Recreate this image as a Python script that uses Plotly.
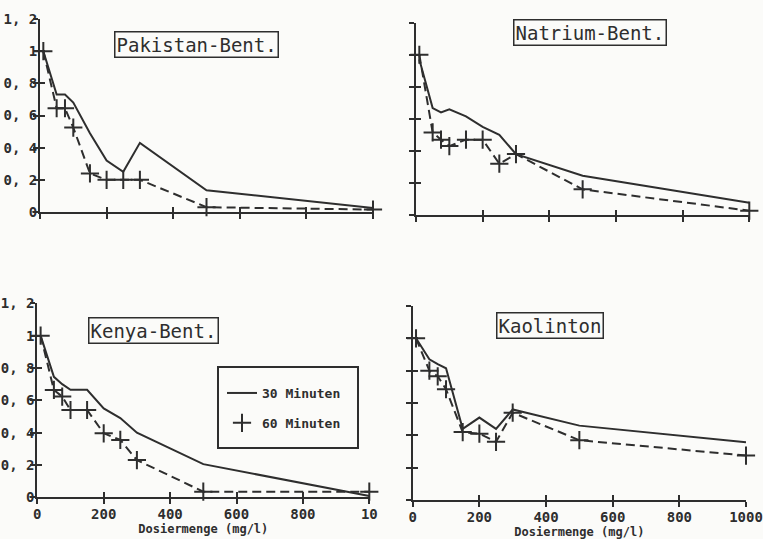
import plotly.graph_objects as go

# ---------------- data ----------------
dose = [10, 50, 75, 100, 150, 200, 250, 300, 500, 1000]

panels = ["Pakistan-Bent.", "Natrium-Bent.", "Kenya-Bent.", "Kaolinton"]

pak_30 = [1.0, 0.73, 0.73, 0.68, 0.49, 0.32, 0.25, 0.43, 0.135, 0.025]
pak_60 = [1.0, 0.645, 0.645, 0.525, 0.24, 0.2, 0.2, 0.2, 0.03, 0.015]

nat_30 = [0.97, 0.667, 0.64, 0.66, 0.615, 0.55, 0.50, 0.38, 0.245, 0.077]
nat_60 = [1.0, 0.515, 0.47, 0.43, 0.47, 0.47, 0.32, 0.38, 0.16, 0.027]

ken_30 = [1.0, 0.745, 0.70, 0.665, 0.665, 0.55, 0.49, 0.40, 0.205, 0.008]
ken_60 = [1.0, 0.664, 0.623, 0.54, 0.54, 0.396, 0.355, 0.23, 0.035, 0.035]

kao_30 = [1.0, 0.87, 0.84, 0.815, 0.44, 0.51, 0.44, 0.56, 0.46, 0.357]
kao_60 = [1.0, 0.80, 0.765, 0.685, 0.42, 0.41, 0.36, 0.54, 0.37, 0.275]

series_30 = [pak_30, nat_30, ken_30, kao_30]
series_60 = [pak_60, nat_60, ken_60, kao_60]

y_tickvals = [0, 0.2, 0.4, 0.6, 0.8, 1.0, 1.2]
y_ticktext = ["0", "0, 2", "0, 4", "0, 6", "0, 8", "1", "1, 2"]
x_tickvals = [0, 200, 400, 600, 800, 1000]
x_ticktext = ["0", "200", "400", "600", "800", "1000"]
x_ticktext_kenya = ["0", "200", "400", "600", "800", "10"]
legend_names = ["30 Minuten", "60 Minuten"]
x_title = "Dosiermenge (mg/l)"

# ---------------- layout helpers ----------------
W, H = 763, 539
INK = "#2e2e2e"
MONO = "DejaVu Sans Mono"


def fx(px):
    return px / W


def fy(py):
    return 1 - py / H


# pixel boxes of each plotting area: (x0, x1, y_bottom, y_top)
boxes = [
    (40, 373, 212, 19),
    (416, 749.3, 215, 22.7),
    (37.3, 369.3, 497.3, 303.3),
    (412.7, 746, 500, 306),
]
title_pos = [(196.5, 44.5), (589.5, 33), (153.5, 330), (550, 325.5)]

fig = go.Figure()
layout = {}

for i in range(4):
    n = i + 1
    xa = "x" if n == 1 else f"x{n}"
    ya = "y" if n == 1 else f"y{n}"
    x0, x1, yb, yt = boxes[i]
    xdom = [fx(x0), fx(x1)]
    ydom = [fy(yb), fy(yt)]

    show_y = i in (0, 2)
    show_x = i in (2, 3)
    xtext = x_ticktext_kenya if i == 2 else x_ticktext

    layout[f"xaxis{'' if n == 1 else n}"] = dict(
        domain=xdom, range=[0, 1000], anchor=ya, automargin=False,
        showline=True, linecolor=INK, linewidth=2,
        ticks="outside", ticklen=5, tickwidth=2, tickcolor=INK,
        tickvals=x_tickvals, ticktext=xtext, showticklabels=show_x,
        ticklabelstandoff=-2,
        showgrid=False, zeroline=False,
        tickfont=dict(family=MONO, size=14, color=INK, weight="bold"),
        title=dict(text=x_title if show_x else "", standoff=0,
                   font=dict(family=MONO, size=12, color=INK, weight="bold")),
        fixedrange=True,
    )
    layout[f"yaxis{'' if n == 1 else n}"] = dict(
        domain=ydom, range=[0, 1.2], anchor=xa, automargin=False,
        showline=True, linecolor=INK, linewidth=2,
        ticks="outside", ticklen=5, tickwidth=2, tickcolor=INK,
        tickvals=y_tickvals, ticktext=y_ticktext, showticklabels=show_y,
        ticklabelstandoff=-7,
        showgrid=False, zeroline=False,
        tickfont=dict(family=MONO, size=14, color=INK, weight="bold"),
        fixedrange=True,
    )
    # overlay axes giving the inner half of the crossing ticks
    m = n + 4
    layout[f"xaxis{m}"] = dict(
        domain=xdom, range=[0, 1000], anchor=ya, overlaying=xa, automargin=False,
        showline=False, ticks="inside", ticklen=5, tickwidth=2, tickcolor=INK,
        tickvals=x_tickvals, showticklabels=False, showgrid=False, zeroline=False,
    )
    layout[f"yaxis{m}"] = dict(
        domain=ydom, range=[0, 1.2], anchor=xa, overlaying=ya, automargin=False,
        showline=False, ticks="inside", ticklen=5, tickwidth=2, tickcolor=INK,
        tickvals=y_tickvals, showticklabels=False, showgrid=False, zeroline=False,
    )

    fig.add_trace(go.Scatter(
        x=dose, y=series_30[i], mode="lines", xaxis=xa, yaxis=ya,
        line=dict(color=INK, width=2), showlegend=False, name=legend_names[0],
    ))
    fig.add_trace(go.Scatter(
        x=dose, y=series_60[i], mode="lines+markers", xaxis=xa, yaxis=ya,
        line=dict(color=INK, width=2, dash="9px,5px"),
        marker=dict(symbol="cross-thin-open", size=13, color=INK,
                    line=dict(width=2, color=INK)),
        showlegend=False, name=legend_names[1], cliponaxis=False,
    ))
    # invisible helper traces so overlay axes get drawn
    fig.add_trace(go.Scatter(x=[None], y=[None], xaxis=f"x{m}", yaxis=f"y{m}",
                             showlegend=False, hoverinfo="skip"))

# legend entries
fig.add_trace(go.Scatter(x=[None], y=[None], mode="lines", name=legend_names[0],
                         line=dict(color=INK, width=2), legendgroup="a"))
fig.add_trace(go.Scatter(x=[None], y=[None], mode="markers", name=legend_names[1],
                         marker=dict(symbol="cross-thin-open", size=13, color=INK,
                                     line=dict(width=2, color=INK)),
                         legendgroup="b"))

annotations = []
for i in range(4):
    cx, cy = title_pos[i]
    annotations.append(dict(
        text=panels[i], xref="paper", yref="paper", x=fx(cx), y=fy(cy),
        xanchor="center", yanchor="middle", showarrow=False,
        font=dict(family=MONO, size=19, color=INK),
        bordercolor=INK, borderwidth=1.5, borderpad=1, bgcolor="rgba(0,0,0,0)",
    ))

shapes = [dict(type="rect", xref="paper", yref="paper",
               x0=fx(218), x1=fx(358), y0=fy(448), y1=fy(367),
               line=dict(color=INK, width=2), fillcolor="rgba(0,0,0,0)")]

fig.update_layout(
    width=W, height=H,
    margin=dict(l=0, r=0, t=0, b=0, autoexpand=False),
    paper_bgcolor="#fbfbf9", plot_bgcolor="rgba(0,0,0,0)",
    showlegend=True,
    legend=dict(x=fx(222), y=fy(378), xanchor="left", yanchor="top",
                bgcolor="rgba(0,0,0,0)", borderwidth=0,
                font=dict(family=MONO, size=13, color=INK, weight="bold"),
                tracegroupgap=10, itemwidth=30),
    annotations=annotations, shapes=shapes,
    **layout,
)

fig.write_html(
    "out.html",
    config={"displayModeBar": False, "staticPlot": True},
    post_script="document.body.style.margin='0';document.body.style.overflow='hidden';",
)
